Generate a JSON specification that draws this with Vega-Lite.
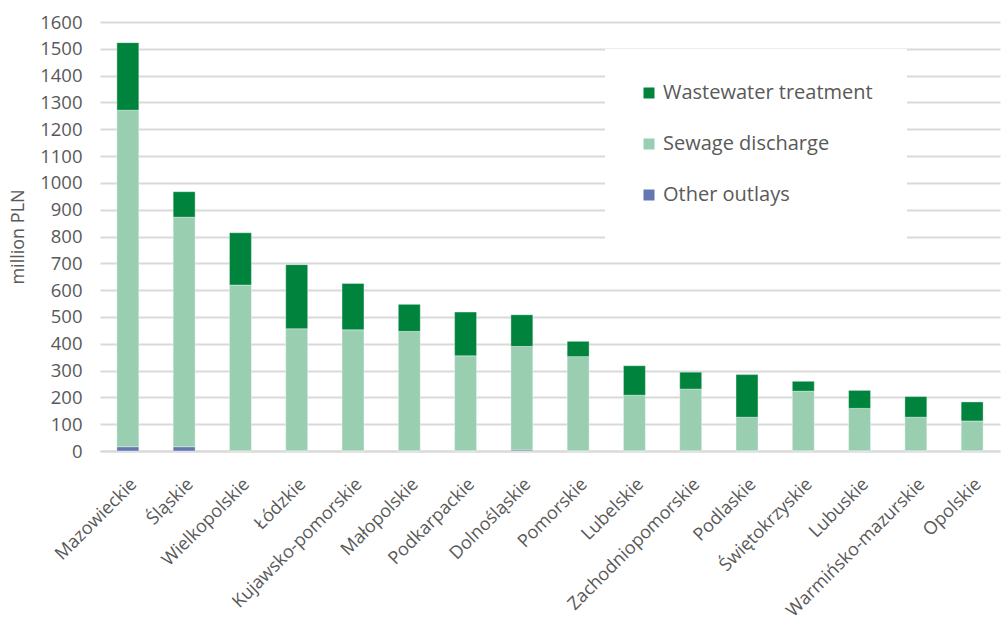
{
  "$schema": "https://vega.github.io/schema/vega-lite/v6.json",
  "autosize": {"type": "none"},
  "width": 900,
  "height": 429,
  "padding": {"left": 100, "top": 22, "right": 2, "bottom": 177},
  "background": "white",
  "config": {
    "font": "Open Sans",
    "view": {"stroke": null}
  },
  "data": {
    "values": [
      {"region": "Mazowieckie", "type": "Other outlays", "value": 16},
      {"region": "Mazowieckie", "type": "Sewage discharge", "value": 1255},
      {"region": "Mazowieckie", "type": "Wastewater treatment", "value": 252},
      {"region": "Śląskie", "type": "Other outlays", "value": 16},
      {"region": "Śląskie", "type": "Sewage discharge", "value": 856},
      {"region": "Śląskie", "type": "Wastewater treatment", "value": 95},
      {"region": "Wielkopolskie", "type": "Other outlays", "value": 1},
      {"region": "Wielkopolskie", "type": "Sewage discharge", "value": 618},
      {"region": "Wielkopolskie", "type": "Wastewater treatment", "value": 195},
      {"region": "Łódzkie", "type": "Other outlays", "value": 1},
      {"region": "Łódzkie", "type": "Sewage discharge", "value": 455},
      {"region": "Łódzkie", "type": "Wastewater treatment", "value": 239},
      {"region": "Kujawsko-pomorskie", "type": "Other outlays", "value": 1},
      {"region": "Kujawsko-pomorskie", "type": "Sewage discharge", "value": 451},
      {"region": "Kujawsko-pomorskie", "type": "Wastewater treatment", "value": 173},
      {"region": "Małopolskie", "type": "Other outlays", "value": 1},
      {"region": "Małopolskie", "type": "Sewage discharge", "value": 445},
      {"region": "Małopolskie", "type": "Wastewater treatment", "value": 101},
      {"region": "Podkarpackie", "type": "Other outlays", "value": 1},
      {"region": "Podkarpackie", "type": "Sewage discharge", "value": 354},
      {"region": "Podkarpackie", "type": "Wastewater treatment", "value": 163},
      {"region": "Dolnośląskie", "type": "Other outlays", "value": 4},
      {"region": "Dolnośląskie", "type": "Sewage discharge", "value": 386},
      {"region": "Dolnośląskie", "type": "Wastewater treatment", "value": 118},
      {"region": "Pomorskie", "type": "Other outlays", "value": 1},
      {"region": "Pomorskie", "type": "Sewage discharge", "value": 351},
      {"region": "Pomorskie", "type": "Wastewater treatment", "value": 57},
      {"region": "Lubelskie", "type": "Other outlays", "value": 1},
      {"region": "Lubelskie", "type": "Sewage discharge", "value": 207},
      {"region": "Lubelskie", "type": "Wastewater treatment", "value": 110},
      {"region": "Zachodniopomorskie", "type": "Other outlays", "value": 1},
      {"region": "Zachodniopomorskie", "type": "Sewage discharge", "value": 230},
      {"region": "Zachodniopomorskie", "type": "Wastewater treatment", "value": 63},
      {"region": "Podlaskie", "type": "Other outlays", "value": 1},
      {"region": "Podlaskie", "type": "Sewage discharge", "value": 125},
      {"region": "Podlaskie", "type": "Wastewater treatment", "value": 159},
      {"region": "Świętokrzyskie", "type": "Other outlays", "value": 1},
      {"region": "Świętokrzyskie", "type": "Sewage discharge", "value": 222},
      {"region": "Świętokrzyskie", "type": "Wastewater treatment", "value": 37},
      {"region": "Lubuskie", "type": "Other outlays", "value": 1},
      {"region": "Lubuskie", "type": "Sewage discharge", "value": 158},
      {"region": "Lubuskie", "type": "Wastewater treatment", "value": 67},
      {"region": "Warmińsko-mazurskie", "type": "Other outlays", "value": 1},
      {"region": "Warmińsko-mazurskie", "type": "Sewage discharge", "value": 125},
      {"region": "Warmińsko-mazurskie", "type": "Wastewater treatment", "value": 77},
      {"region": "Opolskie", "type": "Other outlays", "value": 1},
      {"region": "Opolskie", "type": "Sewage discharge", "value": 111},
      {"region": "Opolskie", "type": "Wastewater treatment", "value": 71}
    ]
  },
  "transform": [
    {
      "calculate": "datum.type === 'Other outlays' ? 0 : (datum.type === 'Sewage discharge' ? 1 : 2)",
      "as": "stackOrder"
    }
  ],
  "mark": {"type": "bar", "stroke": "white", "strokeWidth": 0.6, "strokeOpacity": 0.6},
  "encoding": {
    "x": {
      "field": "region",
      "type": "nominal",
      "sort": null,
      "scale": {"paddingInner": 0.61, "paddingOuter": 0.3},
      "axis": {
        "title": null,
        "labelAngle": -45,
        "labelFontSize": 18,
        "labelColor": "#595959",
        "labelPadding": 24,
        "labelLimit": 300,
        "ticks": false,
        "domainColor": "#d9d9d9",
        "domainWidth": 2
      }
    },
    "y": {
      "field": "value",
      "type": "quantitative",
      "stack": "zero",
      "scale": {"domain": [0, 1600], "nice": false},
      "axis": {
        "title": "million PLN",
        "titleFontSize": 18,
        "titleFontWeight": "normal",
        "titleColor": "#595959",
        "titlePadding": 12,
        "format": "d",
        "values": [0, 100, 200, 300, 400, 500, 600, 700, 800, 900, 1000, 1100, 1200, 1300, 1400, 1500, 1600],
        "labelFontSize": 18.5,
        "labelColor": "#595959",
        "labelPadding": 18,
        "ticks": false,
        "domain": false,
        "gridColor": "#d9d9d9",
        "gridWidth": 2
      }
    },
    "color": {
      "field": "type",
      "type": "nominal",
      "scale": {
        "domain": ["Wastewater treatment", "Sewage discharge", "Other outlays"],
        "range": ["#00843d", "#99ceb1", "#6577b0"]
      },
      "legend": {
        "title": null,
        "orient": "none",
        "legendX": 505,
        "legendY": 27,
        "direction": "vertical",
        "symbolType": "square",
        "symbolSize": 121,
        "symbolStrokeWidth": 0,
        "labelFontSize": 20,
        "labelColor": "#595959",
        "labelOffset": 4,
        "labelLimit": 320,
        "rowPadding": 31,
        "padding": 34,
        "fillColor": "white"
      }
    },
    "order": {"field": "stackOrder", "type": "quantitative"}
  }
}
